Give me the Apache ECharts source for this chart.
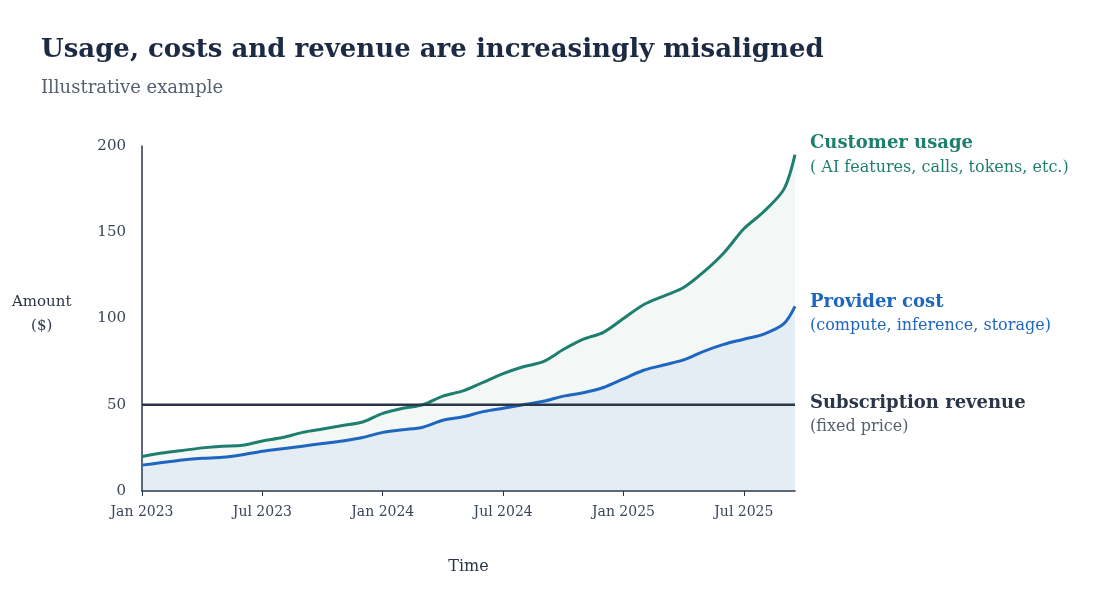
<!DOCTYPE html>
<html><head><meta charset="utf-8">
<script src="https://cdn.jsdelivr.net/npm/echarts@6/dist/echarts.min.js"></script>
<style>html,body{margin:0;background:#fff}#c{width:1106px;height:612px}</style>
</head><body><div id="c"></div>
<script>
const months = [0,1,2,3,4,5,6,7,8,9,10,11,12,13,14,15,16,17,18,19,20,21,22,23,24,25,26,27,28,29,30,31,32,32.55];
const usage = [20,22,23.5,25,26,26.5,29,31,34,36,38,40,45,48,50,55,58,63,68,72,75,82,88,92,100,108,113,118,127,138,152,162,175,195];
const cost = [15,16.5,18,19,19.5,21,23,24.5,26,27.5,29,31,34,35.5,37,41,43,46,48,50,52,55,57,60,65,70,73,76,81,85,88,91,97,107];
const revenue = 50;
const tickLabels = {0:'Jan 2023',6:'Jul 2023',12:'Jan 2024',18:'Jul 2024',24:'Jan 2025',30:'Jul 2025'};
const F = 'DejaVu Serif';
const ch = echarts.init(document.getElementById('c'));
const pair = a => months.map((m,i)=>[m,a[i]]);
ch.setOption({
  animation:false,
  textStyle:{fontFamily:F},
  title:{text:'Usage, costs and revenue are increasingly misaligned',subtext:'Illustrative example',left:36,top:32,
    textStyle:{fontFamily:F,fontSize:26,fontWeight:'bold',color:'#1c2a44'},
    subtextStyle:{fontFamily:F,fontSize:18,color:'#555f6e'},itemGap:16},
  grid:{left:142,right:311,top:146,bottom:121},
  xAxis:{type:'value',min:0,max:32.55,interval:6,
    axisLine:{lineStyle:{color:'#2b3648',width:1.5}},axisTick:{show:true,length:5,lineStyle:{color:'#2b3648'}},
    splitLine:{show:false},
    axisLabel:{fontFamily:F,fontSize:14,color:'#3a4558',margin:14,showMaxLabel:false,formatter:v=>tickLabels[v]||''},
    name:'Time',nameLocation:'middle',nameGap:68,nameTextStyle:{fontFamily:F,fontSize:16,color:'#2b3648'}},
  yAxis:{type:'value',min:0,max:200,interval:50,
    axisLine:{show:true,lineStyle:{color:'#2b3648',width:1.5}},axisTick:{show:false},splitLine:{show:false},
    axisLabel:{fontFamily:F,fontSize:15,color:'#3a4558',margin:16}},
  graphic:[
    {type:'text',left:12,top:290,style:{text:'Amount\n    ($)',font:'15px "DejaVu Serif"',fill:'#2b3648',lineHeight:24}},
    {type:'text',left:810,top:134,style:{text:'Customer usage',font:'bold 18px "DejaVu Serif"',fill:'#1f7f6e'}},
    {type:'text',left:810,top:160,style:{text:'( AI features, calls, tokens, etc.)',font:'16px "DejaVu Serif"',fill:'#1f7f6e'}},
    {type:'text',left:810,top:293,style:{text:'Provider cost',font:'bold 18px "DejaVu Serif"',fill:'#1f66c1'}},
    {type:'text',left:810,top:318,style:{text:'(compute, inference, storage)',font:'16px "DejaVu Serif"',fill:'#1f66c1'}},
    {type:'text',left:810,top:394,style:{text:'Subscription revenue',font:'bold 18px "DejaVu Serif"',fill:'#2b3648'}},
    {type:'text',left:810,top:419,style:{text:'(fixed price)',font:'16px "DejaVu Serif"',fill:'#555f6e'}}
  ],
  series:[
    {type:'line',data:pair(usage),showSymbol:false,smooth:0.3,lineStyle:{color:'#1f7f6e',width:3},
      areaStyle:{color:'rgba(31,127,110,0.08)'},z:3},
    {type:'line',data:pair(cost),showSymbol:false,smooth:0.3,lineStyle:{color:'#1f66c1',width:3},
      areaStyle:{color:'rgba(31,102,193,0.10)'},z:4},
    {type:'line',data:[[0,revenue],[32.55,revenue]],showSymbol:false,lineStyle:{color:'#2b3648',width:2.5},z:5}
  ]
});
</script></body></html>
